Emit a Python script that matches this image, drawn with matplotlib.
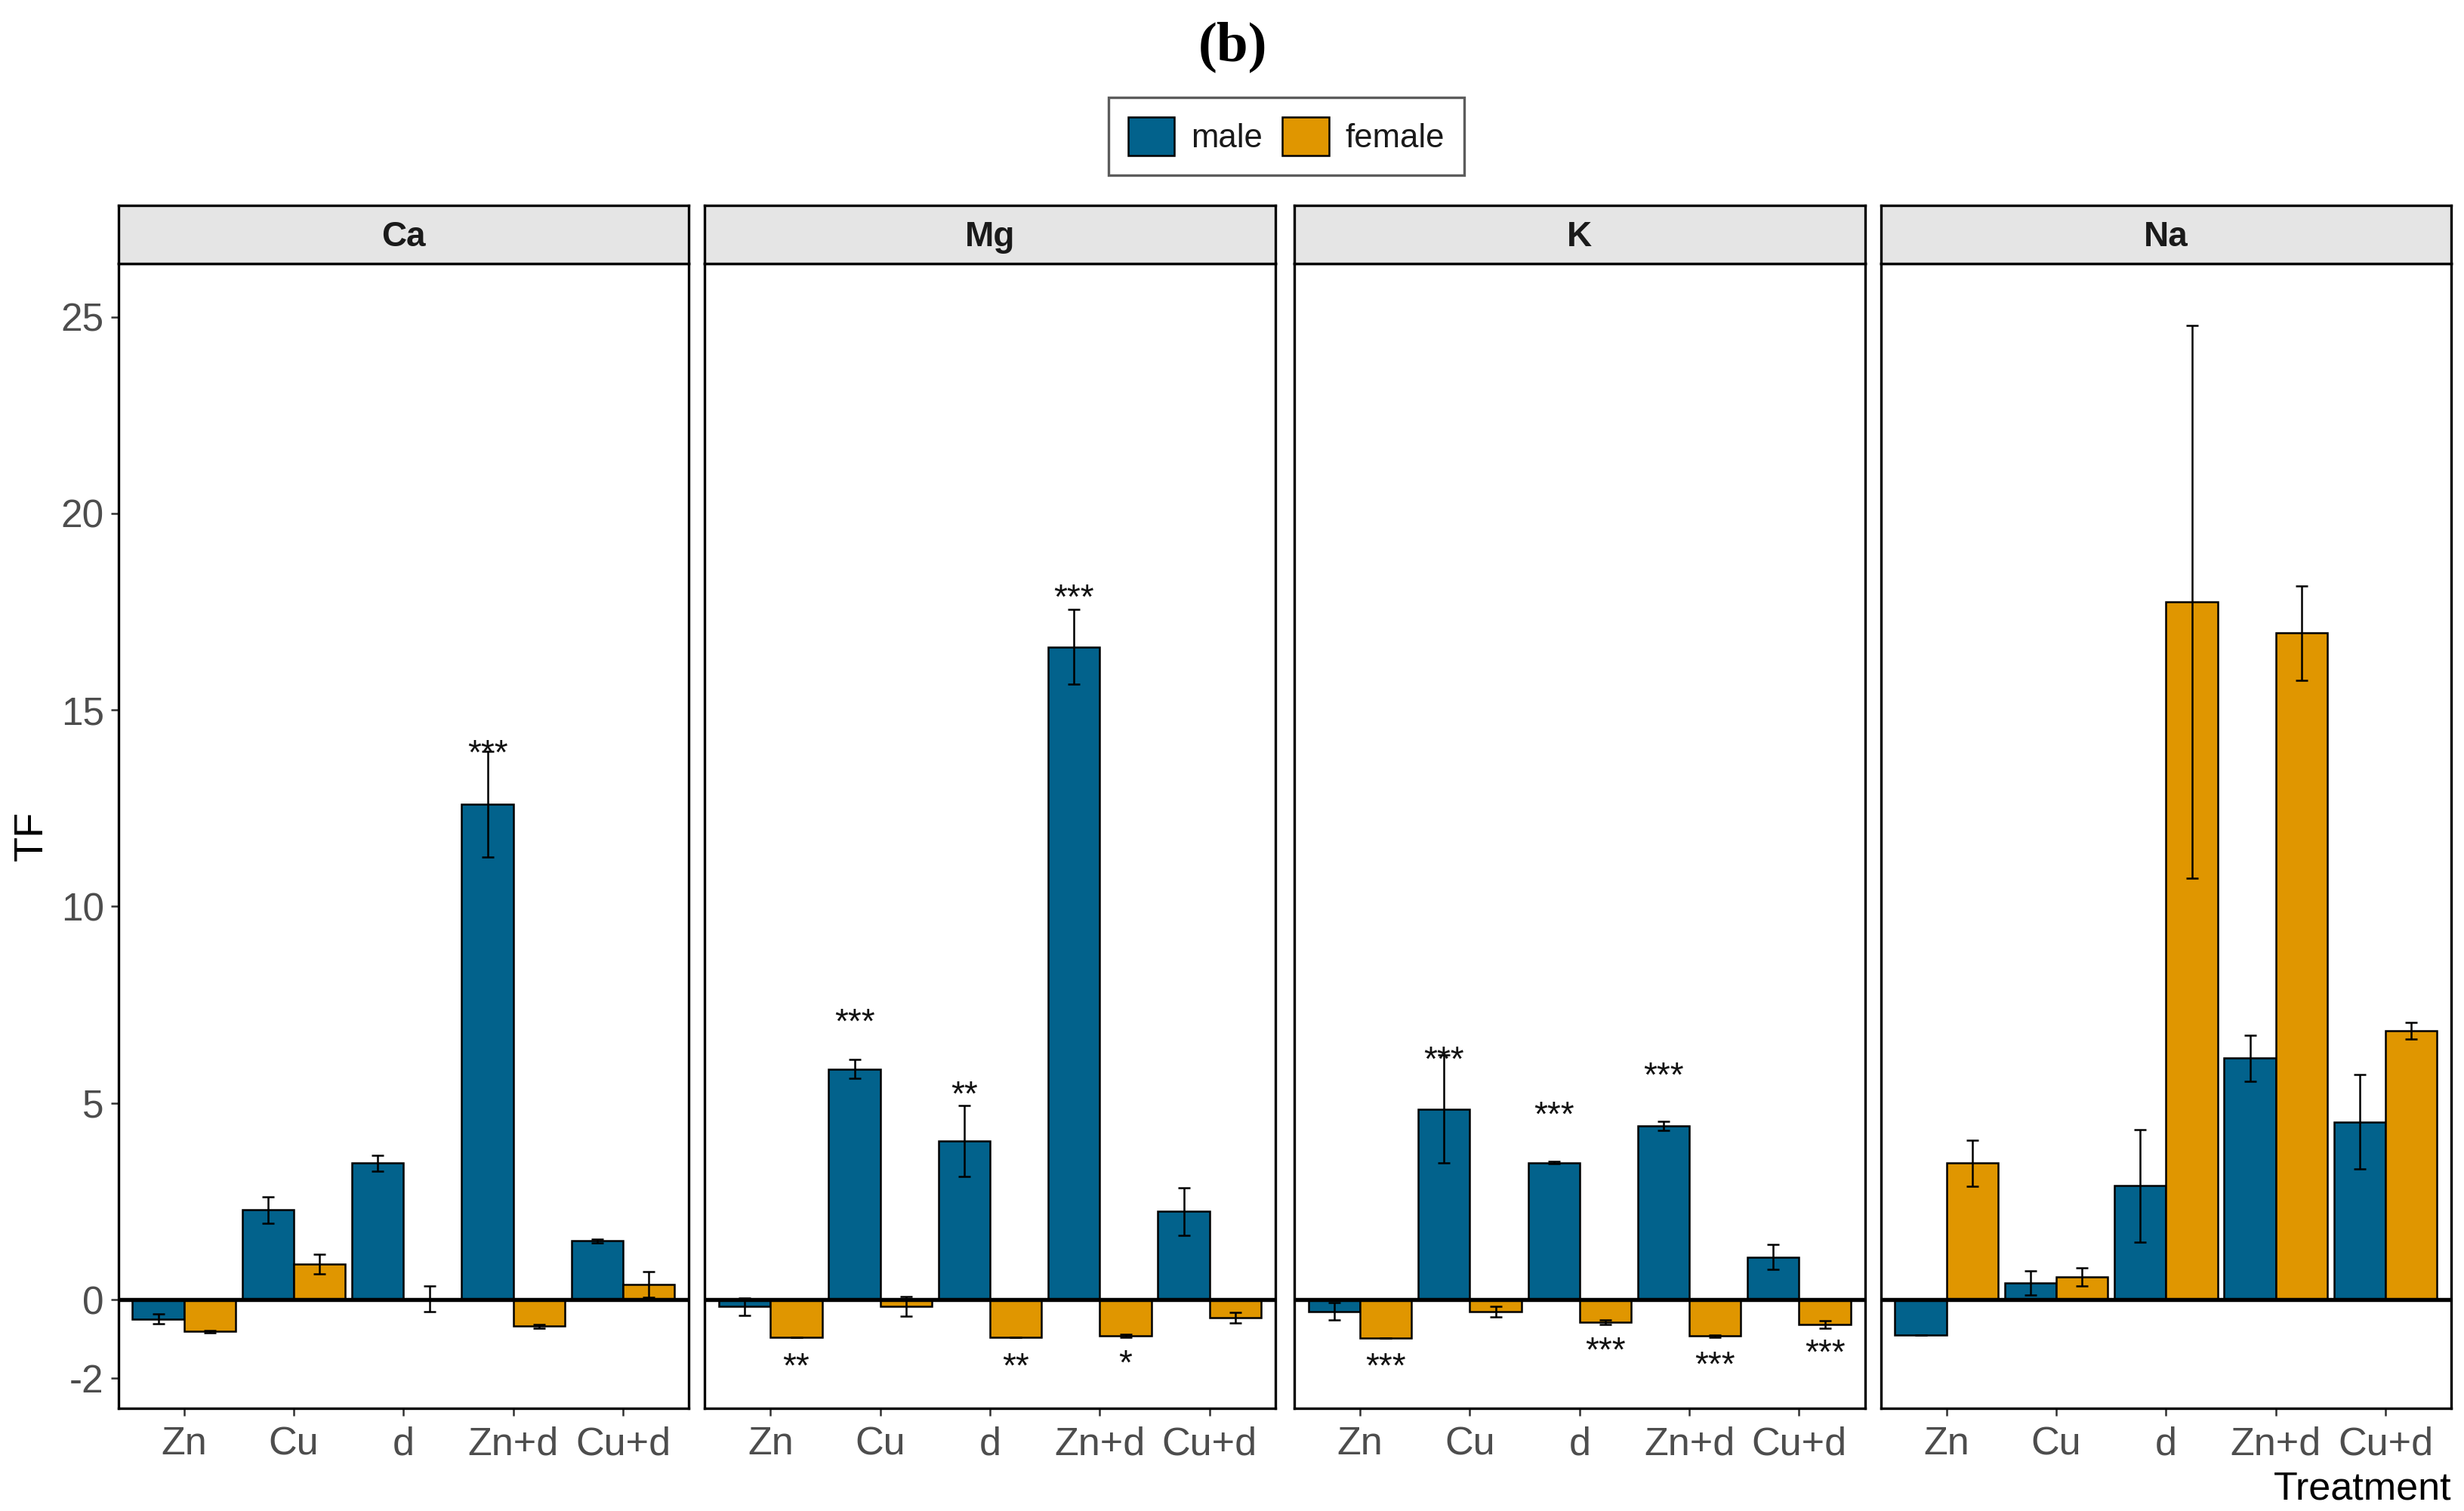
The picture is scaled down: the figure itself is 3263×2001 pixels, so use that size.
import matplotlib
matplotlib.use("Agg")
import matplotlib.pyplot as plt
from matplotlib.patches import Patch
import numpy as np

plt.rcParams['font.family'] = ['Liberation Sans', 'DejaVu Sans']

# data
treatments = ['Zn', 'Cu', 'd', 'Zn+d', 'Cu+d']
elements = ['Ca', 'Mg', 'K', 'Na']

male_mean = {
    'Ca': [-0.49, 2.28, 3.47, 12.6, 1.49],
    'Mg': [-0.18, 5.86, 4.03, 16.6, 2.24],
    'K':  [-0.30, 4.85, 3.48, 4.42, 1.08],
    'Na': [-0.90, 0.43, 2.90, 6.14, 4.52],
}
male_err = {
    'Ca': [0.12, 0.34, 0.20, 1.35, 0.05],
    'Mg': [0.22, 0.24, 0.90, 0.95, 0.60],
    'K':  [0.22, 1.37, 0.03, 0.11, 0.32],
    'Na': [0.00, 0.31, 1.43, 0.59, 1.20],
}
female_mean = {
    'Ca': [-0.81, 0.91, 0.02, -0.68, 0.39],
    'Mg': [-0.96, -0.18, -0.96, -0.92, -0.46],
    'K':  [-0.98, -0.31, -0.58, -0.93, -0.63],
    'Na': [3.47, 0.57, 17.75, 16.96, 6.84],
}
female_err = {
    'Ca': [0.03, 0.25, 0.33, 0.04, 0.33],
    'Mg': [0.00, 0.25, 0.00, 0.04, 0.14],
    'K':  [0.00, 0.13, 0.06, 0.03, 0.10],
    'Na': [0.58, 0.23, 7.03, 1.20, 0.21],
}

# significance labels
star_element = ['Ca', 'Mg', 'Mg', 'Mg', 'Mg', 'Mg', 'Mg',
                'K', 'K', 'K', 'K', 'K', 'K', 'K']
star_treat = ['Zn+d', 'Cu', 'd', 'Zn+d', 'Zn', 'd', 'Zn+d',
              'Cu', 'd', 'Zn+d', 'Zn', 'd', 'Zn+d', 'Cu+d']
star_sex = ['male', 'male', 'male', 'male', 'female', 'female', 'female',
            'male', 'male', 'male', 'female', 'female', 'female', 'female']
star_label = ['***', '***', '**', '***', '**', '**', '*',
              '***', '***', '***', '***', '***', '***', '***']
star_y = [14.06, 7.23, 5.38, 18.03, -1.53, -1.53, -1.45,
          6.26, 4.86, 5.86, -1.53, -1.12, -1.49, -1.18]

yticks = [-2, 0, 5, 10, 15, 20, 25]

c_male = '#02628C'
c_female = '#E09600'
tick_col = '#4D4D4D'

fig = plt.figure(figsize=(3263 / 300, 2001 / 300), dpi=300)

W, H = 1563.0, 958.0
panel_x = [75, 447, 821, 1193]
panel_w = 362
p_top, p_bot = 167, 893
strip_h = 37

bw = 0.47
x = np.arange(1, 6)
star_fs = 11

for i, el in enumerate(elements):
    left = panel_x[i] / W
    ax = fig.add_axes([left, 1 - p_bot / H, panel_w / W, (p_bot - p_top) / H])
    ax.bar(x - bw / 2, male_mean[el], width=bw, color=c_male,
           edgecolor='black', linewidth=0.6, zorder=2)
    ax.bar(x + bw / 2, female_mean[el], width=bw, color=c_female,
           edgecolor='black', linewidth=0.6, zorder=2)
    ax.errorbar(x - bw / 2, male_mean[el], yerr=male_err[el], fmt='none',
                ecolor='black', elinewidth=0.6, capsize=2, capthick=0.6, zorder=3)
    ax.errorbar(x + bw / 2, female_mean[el], yerr=female_err[el], fmt='none',
                ecolor='black', elinewidth=0.6, capsize=2, capthick=0.6, zorder=3)
    ax.axhline(0, color='black', linewidth=1.3, zorder=4)

    for e, t, s, lab, yy in zip(star_element, star_treat, star_sex, star_label, star_y):
        if e != el:
            continue
        xx = treatments.index(t) + 1 + (-bw / 2 if s == 'male' else bw / 2)
        ax.annotate(lab, (xx, yy), xytext=(0, -0.5 * star_fs), textcoords='offset points',
                    ha='center', va='baseline', fontsize=star_fs, color='#111111', zorder=5)

    ax.set_xlim(0.4, 5.6)
    ax.set_ylim(-2.77, 26.36)
    ax.set_xticks(x)
    ax.set_xticklabels(treatments, fontsize=12.5, color=tick_col)
    ax.set_yticks(yticks)
    if i == 0:
        ax.set_yticklabels([str(v) for v in yticks], fontsize=12.3, color=tick_col)
        ax.tick_params(axis='y', length=2.5, width=0.6, color='#333333', pad=2)
    else:
        ax.tick_params(axis='y', length=0, labelleft=False)
    ax.tick_params(axis='x', length=2.5, width=0.6, color='#333333', pad=3)
    for sp in ax.spines.values():
        sp.set_linewidth(0.8)
        sp.set_color('black')

    # facet strip
    sax = fig.add_axes([left, 1 - p_top / H, panel_w / W, strip_h / H])
    sax.set_facecolor('#E5E5E5')
    sax.set_xticks([])
    sax.set_yticks([])
    for sp in sax.spines.values():
        sp.set_linewidth(0.8)
        sp.set_color('black')
    sax.text(0.5, 0.45, el, ha='center', va='center', fontsize=11,
             fontweight='bold', color='#1A1A1A', transform=sax.transAxes)

fig.text(20 / W, 1 - 530 / H, 'TF', rotation=90, ha='center', va='center',
         fontsize=13, color='black')
fig.text(1555 / W, 1 - 944 / H, 'Treatment', ha='right', va='center',
         fontsize=12.5, color='black')
fig.text(782 / W, 1 - 30 / H, '(b)', ha='center', va='center', fontsize=18,
         fontweight='bold', family='Liberation Serif', color='black')

handles = [Patch(facecolor=c_male, edgecolor='black', linewidth=0.6, label='male'),
           Patch(facecolor=c_female, edgecolor='black', linewidth=0.6, label='female')]
leg = fig.legend(handles=handles, loc='center', bbox_to_anchor=(816 / W, 1 - 86.5 / H),
                 ncol=2, fontsize=10.5, frameon=True, fancybox=False,
                 handlelength=1.4, handleheight=1.4, handletextpad=0.5,
                 columnspacing=0.6, borderpad=0.6)
leg.get_frame().set_edgecolor('#333333')
leg.get_frame().set_linewidth(0.8)
for txt in leg.get_texts():
    txt.set_color('#1A1A1A')

fig.savefig('out.png', dpi=300)
